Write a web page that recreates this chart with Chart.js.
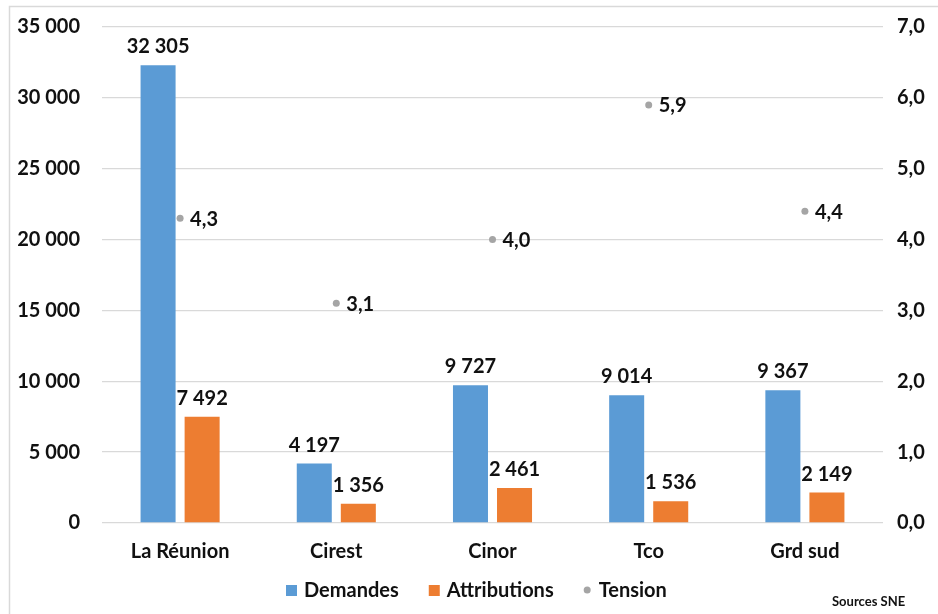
<!DOCTYPE html>
<html>
<head>
<meta charset="utf-8">
<script src="https://cdn.jsdelivr.net/npm/chart.js@4"></script>
<style>
  html, body { margin: 0; padding: 0; background: #fff; }
  #wrap { width: 938px; height: 614px; position: relative; }
</style>
</head>
<body>
<div id="wrap"><canvas id="c" width="938" height="614"></canvas></div>
<script>
// Demandes, attributions et tension par territoire
const categories = ['La Réunion', 'Cirest', 'Cinor', 'Tco', 'Grd sud'];
const demandes = [32305, 4197, 9727, 9014, 9367];
const attributions = [7492, 1356, 2461, 1536, 2149];
const tension = [4.3, 3.1, 4.0, 5.9, 4.4];
const leftTicks = [0, 5000, 10000, 15000, 20000, 25000, 30000, 35000];
const rightTicks = [0, 1, 2, 3, 4, 5, 6, 7];

const FONT = 'Lato, "Open Sans", sans-serif';
const TEXT = '#111111';
const BLUE = '#5B9BD5';
const ORANGE = '#ED7D31';
const GREY = '#A5A5A5';

const fmtInt = v => String(Math.round(v)).replace(/\B(?=(\d{3})+(?!\d))/g, ' ');
const fmtDec = v => v.toFixed(1).replace('.', ',');

// Outer frame of the figure
const framePlugin = {
  id: 'frame',
  beforeDraw(chart) {
    const ctx = chart.ctx;
    ctx.save();
    ctx.fillStyle = '#ffffff';
    ctx.fillRect(0, 0, chart.width, chart.height);
    ctx.strokeStyle = '#d9d9d9';
    ctx.lineWidth = 1.5;
    ctx.strokeRect(9.5, 6.5, chart.width + 10, chart.height + 10);
    ctx.restore();
  }
};

// Value labels above bars and beside the tension points
const valueLabels = {
  id: 'valueLabels',
  afterDatasetsDraw(chart) {
    const ctx = chart.ctx;
    ctx.save();
    ctx.font = 'bold 20px ' + FONT;
    ctx.fillStyle = TEXT;
    chart.data.datasets.forEach((ds, i) => {
      const meta = chart.getDatasetMeta(i);
      meta.data.forEach((el, j) => {
        const v = ds.data[j];
        if (ds.type === 'line') {
          ctx.textAlign = 'left';
          ctx.textBaseline = 'middle';
          ctx.fillText(fmtDec(v), el.x + 10, el.y + 1);
        } else {
          ctx.textAlign = 'center';
          ctx.textBaseline = 'alphabetic';
          ctx.fillText(fmtInt(v), el.x, el.y - 12);
        }
      });
    });
    ctx.restore();
  }
};

// Legend row and source note at the bottom
const bottomLegend = {
  id: 'bottomLegend',
  afterDraw(chart) {
    const ctx = chart.ctx;
    ctx.save();
    ctx.font = 'bold 20px ' + FONT;
    ctx.fillStyle = TEXT;
    ctx.textBaseline = 'middle';
    ctx.textAlign = 'left';
    const y = 591;
    let x = 286;
    chart.data.datasets.forEach(ds => {
      if (ds.type === 'line') {
        ctx.fillStyle = ds.backgroundColor;
        ctx.beginPath();
        ctx.arc(x + 3.5, y - 1, 3.5, 0, Math.PI * 2);
        ctx.fill();
        x += 15;
      } else {
        ctx.fillStyle = ds.backgroundColor;
        ctx.fillRect(x, y - 6, 11, 11);
        x += 18;
      }
      ctx.fillStyle = TEXT;
      ctx.fillText(ds.label, x, y);
      x += ctx.measureText(ds.label).width + 30;
    });
    ctx.font = 'bold 13px ' + FONT;
    ctx.fillText('Sources SNE', 832, 602);
    ctx.restore();
  }
};

new Chart(document.getElementById('c'), {
  type: 'bar',
  data: {
    labels: categories,
    datasets: [
      {
        label: 'Demandes',
        data: demandes,
        backgroundColor: BLUE,
        yAxisID: 'y',
        barPercentage: 0.795,
        categoryPercentage: 0.564,
        order: 2
      },
      {
        label: 'Attributions',
        data: attributions,
        backgroundColor: ORANGE,
        yAxisID: 'y',
        barPercentage: 0.795,
        categoryPercentage: 0.564,
        order: 2
      },
      {
        type: 'line',
        label: 'Tension',
        data: tension,
        yAxisID: 'y1',
        showLine: false,
        backgroundColor: GREY,
        borderColor: GREY,
        pointRadius: 3.5,
        pointBorderWidth: 0,
        pointHoverRadius: 3.5,
        order: 1
      }
    ]
  },
  options: {
    responsive: false,
    animation: false,
    events: [],
    layout: { padding: { top: 27, bottom: 41, left: 0, right: 0 } },
    plugins: {
      legend: { display: false },
      tooltip: { enabled: false }
    },
    scales: {
      x: {
        grid: { display: false, drawTicks: false },
        border: { display: false },
        ticks: {
          color: TEXT,
          padding: 17,
          font: { family: FONT, size: 20, weight: 'bold' }
        },
        afterFit(scale) { scale.height = 50; }
      },
      y: {
        position: 'left',
        min: 0,
        max: 35000,
        afterBuildTicks(scale) { scale.ticks = leftTicks.map(v => ({ value: v })); },
        grid: { color: '#d9d9d9', lineWidth: 1.3, drawTicks: false },
        border: { display: false },
        ticks: {
          color: TEXT,
          padding: 22,
          font: { family: FONT, size: 20, weight: 'bold' },
          callback: v => fmtInt(v)
        },
        afterFit(scale) {
          scale.width = 102;
          scale.paddingTop = 10;
          scale.paddingBottom = 10;
        }
      },
      y1: {
        position: 'right',
        min: 0,
        max: 7,
        afterBuildTicks(scale) { scale.ticks = rightTicks.map(v => ({ value: v })); },
        grid: { display: false, drawTicks: false },
        border: { display: false },
        ticks: {
          color: TEXT,
          padding: 14,
          font: { family: FONT, size: 20, weight: 'bold' },
          callback: v => fmtDec(v)
        },
        afterFit(scale) {
          scale.width = 55;
          scale.paddingTop = 10;
          scale.paddingBottom = 10;
        }
      }
    }
  },
  plugins: [framePlugin, valueLabels, bottomLegend]
});
</script>
</body>
</html>
